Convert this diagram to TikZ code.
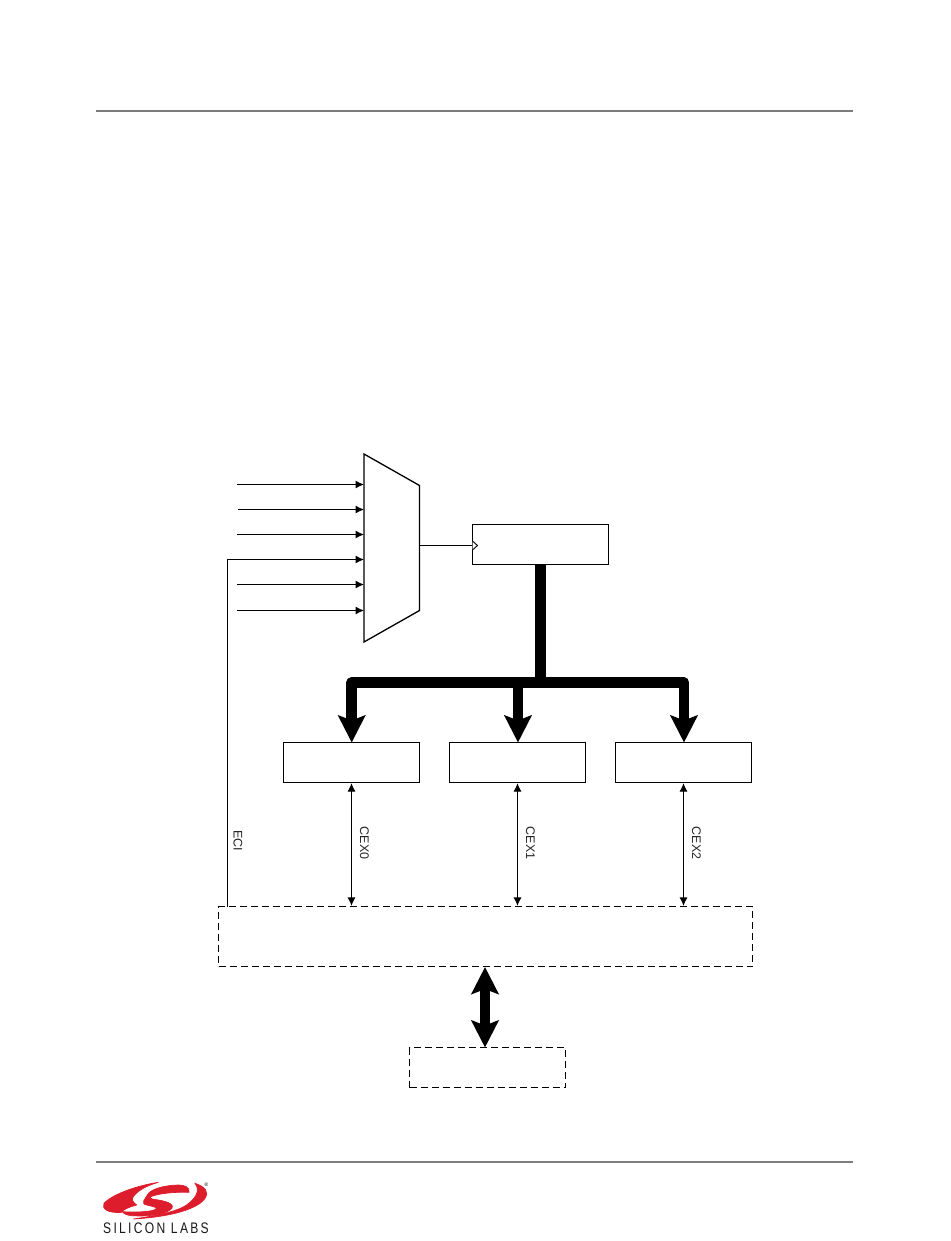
\documentclass[tikz,border=0pt]{standalone}
\usepackage{fontspec}
\setmainfont{Liberation Sans}
\usetikzlibrary{arrows.meta}
\definecolor{rulegray}{RGB}{125,125,125}
\definecolor{silred}{RGB}{221,28,44}
\tikzset{
 x=1pt,y=-1pt,
 blockbox/.style={draw=black,line width=1.1pt,fill=white,inner sep=0pt,minimum width=136pt,minimum height=40pt},
 dashbox/.style={draw=black,line width=1.1pt,dash pattern=on 7pt off 4pt,fill=white,inner sep=0pt},
 sig/.style={line width=1.1pt,-{Latex[length=8.5pt,width=8pt]}},
 sigboth/.style={line width=1.1pt,{Latex[length=8.5pt,width=8pt]}-{Latex[length=8.5pt,width=8pt]}},
 bus/.style={line width=10.5pt,draw=black},
 bustip/.style={line width=10.5pt,draw=black,-{Stealth[length=27pt,width=27pt,inset=5pt]}},
 busboth/.style={line width=10.5pt,draw=black,{Stealth[length=27pt,width=27pt,inset=5pt]}-{Stealth[length=27pt,width=27pt,inset=5pt]}},
 pinlabel/.style={font=\fontsize{12.5}{14}\selectfont,rotate=-90,text=black!85},
 logored/.style={fill=silred,draw=silred,line width=0.7pt},
}
\begin{document}
\begin{tikzpicture}
\useasboundingbox (0,0) rectangle (950,1241);
\fill[white] (0,0) rectangle (950,1241);
\draw[rulegray,line width=1.4pt] (96,111) -- (853,111);
\draw[rulegray,line width=1.4pt] (96,1162) -- (853,1162);
% mux
\coordinate (m1) at (364,454);\coordinate (m2) at (419.5,485.5);\coordinate (m3) at (419.5,610.5);\coordinate (m4) at (364,642);
\draw[line width=1.3pt,line join=miter] (m1)--(m2)--(m3)--(m4)--cycle;
\foreach \n/\yy/\xx in {a/484.5/237,b/509.5/238,c/534.5/237,e/584.5/237,f/610.5/237}{
 \coordinate (s\n) at (\xx,\yy); \coordinate (t\n) at (364,\yy);
 \draw[sig] (s\n) -- (t\n);}
% blocks
\node[blockbox] (timer) at (540.3,544.5) {};
\node[blockbox] (pca0) at (351.5,762.5) {};
\node[blockbox] (pca1) at (517.5,762.5) {};
\node[blockbox] (pca2) at (683.5,762.5) {};
\node[dashbox,minimum width=534pt,minimum height=60pt] (xbar) at (485.5,936.5) {};
\node[dashbox,minimum width=156pt,minimum height=40pt] (sfr) at (487.5,1067.5) {};
% clock
\coordinate (mo) at (419.5,545.5);
\draw[line width=1.1pt] (mo) -- (timer.west |- mo);
\draw[line width=.9pt,fill=white] (472.5,541) -- (477.5,545.5) -- (472.5,550);
% ECI
\coordinate (eci) at (227.5,906.5);\coordinate (t4) at (364,559.5);
\draw[sig] (eci) -- (227.5,559.5) -- (t4);
\node[pinlabel] (ecil) at (238,841) {ECI};
% CEX
\foreach \p/\l in {pca0/CEX0,pca1/CEX1,pca2/CEX2}{
 \draw[sigboth] (\p.south) -- (\p.south |- xbar.north);
 \path (\p.south) ++(13,60) node[pinlabel] (lab\l) {\l};
}
% bus
\coordinate (busj) at (540.3,682.5);
\draw[bus] (timer.south) -- (busj);
\coordinate (tip0) at (351.7,742.5);\coordinate (tip1) at (518,742.5);\coordinate (tip2) at (684,742.5);
\draw[bus,line join=round] (351.7,712) -- (351.7,682.5) -- (684,682.5) -- (684,712);
\draw[bustip] (351.7,700) -- (tip0);
\draw[bustip] (518,682.5) -- (tip1);
\draw[bustip] (684,700) -- (tip2);
% sfr bus
\coordinate (d1) at (485,967);\coordinate (d2) at (485,1047.5);
\draw[busboth] (d1) -- (d2);
% logo
\begin{scope}[shift={(90,1150)},x=0.3333pt,y=-0.3333pt]
\path[logored] (205,97) .. controls (150,105) and (70,130) .. (42,160)
 .. controls (35,175) and (50,190) .. (95,187)
 .. controls (100,178) and (115,172) .. (140,165)
 .. controls (125,155) and (125,145) .. (130,140)
 .. controls (140,125) and (165,108) .. (205,97) -- cycle;
\path[logored] (172,135) .. controls (180,118) and (220,106) .. (265,105)
 .. controls (285,105) and (300,112) .. (297,127)
 .. controls (260,125) and (205,130) .. (182,140)
 .. controls (175,146) and (190,148) .. (205,150)
 .. controls (235,155) and (260,165) .. (240,180)
 .. controls (220,195) and (170,200) .. (125,197)
 .. controls (110,196) and (100,190) .. (97,185)
 .. controls (125,187) and (180,187) .. (197,178)
 .. controls (205,172) and (190,170) .. (170,165)
 .. controls (150,160) and (165,148) .. (172,135) -- cycle;
\path[logored] (315,100) .. controls (345,110) and (358,125) .. (345,145)
 .. controls (325,175) and (250,200) .. (130,207)
 .. controls (200,197) and (260,185) .. (290,165)
 .. controls (310,150) and (335,125) .. (315,100) -- cycle;
\end{scope}
\node[font=\fontsize{5}{6}\selectfont,text=black,inner sep=0pt] (reg) at (206.5,1184.5) {®};
\node[font=\fontsize{15.3}{17}\selectfont,text=black!90,inner sep=0pt,xscale=0.79] (logotext) at (156,1228) {\addfontfeature{LetterSpace=19}SILICON LABS};
\end{tikzpicture}
\end{document}
